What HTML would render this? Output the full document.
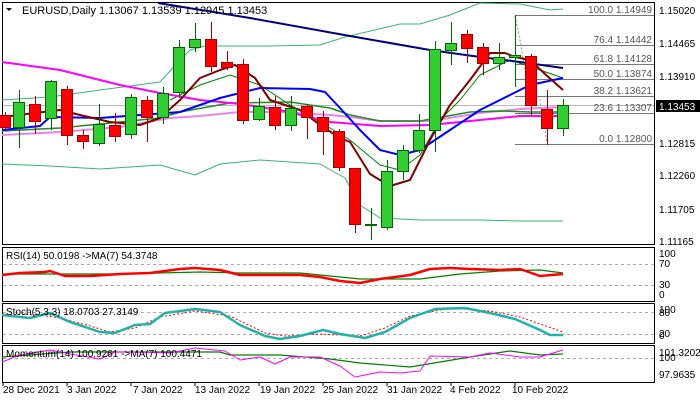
<!DOCTYPE html><html><head><style>body{margin:0;background:#fff}svg{display:block;font-family:"Liberation Sans",sans-serif;font-size:10px}</style></head><body>
<svg id="s" width="700" height="400" xmlns="http://www.w3.org/2000/svg">
<rect width="700" height="400" fill="#fff"/>
<g fill="none" stroke="#000" stroke-width="1">
<rect x="2.5" y="2.5" width="652" height="242"/>
<rect x="2.5" y="247.5" width="652" height="54"/>
<rect x="2.5" y="303.5" width="652" height="40"/>
<rect x="2.5" y="345.5" width="652" height="37"/>
</g>
<line x1="3" y1="105.5" x2="654" y2="105.5" stroke="#bbb"/>
<g stroke="#777" stroke-width="1">
<line x1="515" y1="15.5" x2="654" y2="15.5"/><line x1="515" y1="45.5" x2="654" y2="45.5"/><line x1="515" y1="64.5" x2="654" y2="64.5"/><line x1="515" y1="79.5" x2="654" y2="79.5"/><line x1="515" y1="96.5" x2="654" y2="96.5"/><line x1="515" y1="113.5" x2="654" y2="113.5"/><line x1="515" y1="144.5" x2="654" y2="144.5"/>
</g>
<polyline points="515,16 520,40 525,70 540,100 545,130 547,143" fill="none" stroke="#999" stroke-dasharray="2,2"/>
<g fill="#555" text-anchor="end" font-size="10"><text x="652" y="13">100.0 1.14949</text><text x="652" y="43">76.4 1.14442</text><text x="652" y="62">61.8 1.14128</text><text x="652" y="77">50.0 1.13874</text><text x="652" y="94">38.2 1.13621</text><text x="652" y="111">23.6 1.13307</text><text x="652" y="142">0.0 1.12800</text></g>
<g fill="none" stroke-linejoin="round">
<polyline stroke="#3cb371" stroke-width="1" points="2,100 50,97 100,90 160,82 180,60 190,50 205,46 270,46 320,45 345,37 400,24 420,24 450,15 480,3 520,4 550,10 563,9"/>
<polyline stroke="#3cb371" stroke-width="1" points="2,164 50,166 100,169 160,165 195,175 220,164 260,160 320,164 345,178 360,205 380,218 420,220 480,220 520,221 563,221"/>
<polyline stroke="#008000" stroke-width="1" points="170,100 200,85 230,75 260,85 290,105 330,128 350,140 380,165 400,170 420,155 440,120 460,100 480,75 510,60 540,70 563,78"/>
<polyline stroke="#ee82ee" stroke-width="2" points="2,135 60,132 120,127 170,118 200,116 240,112 280,112 330,115 350,117 380,121 430,121 480,113 520,109 563,107"/>
<polyline stroke="#228b22" stroke-width="1.5" points="2,131 60,128 120,122 160,118 180,112 230,103 290,102 330,108 350,115 380,121 420,121 470,112 500,111 530,112 563,112"/>
<polyline stroke="#ff00ff" stroke-width="2" points="2,62 60,70 120,85 160,93 200,100 240,104 280,110 330,122 380,126 430,125 480,120 520,116 563,116"/>
<polyline stroke="#000080" stroke-width="2" points="158,3 250,18 350,36 430,50 480,57 520,62 563,68"/>
<polyline stroke="#0000ff" stroke-width="2" points="2,130 40,126 50,117 100,118 180,112 220,98 260,88 310,89 325,92 340,108 360,130 380,150 400,155 420,150 450,130 480,110 510,95 530,85 563,78"/>
<polyline stroke="#800000" stroke-width="2" points="2,117 60,110 80,115 110,122 140,125 160,118 180,100 200,78 220,70 235,65 255,78 270,100 300,110 320,125 340,138 350,142 370,174 390,186 410,180 430,140 450,105 470,80 490,53 505,53 515,57 530,60 545,74 563,90"/>
</g>
<g id="c"></g>
<rect x="656" y="100" width="44" height="12" fill="#000"/>
<text x="659" y="110" fill="#fff">1.13453</text>
<g fill="#000" font-size="10"><text x="659" y="14">1.15020</text><text x="659" y="47">1.14465</text><text x="659" y="80">1.13910</text><text x="659" y="147">1.12815</text><text x="659" y="179">1.12260</text><text x="659" y="213">1.11705</text><text x="659" y="245">1.11165</text>
<text x="659" y="257">100</text><text x="659" y="267">70</text><text x="659" y="288">30</text><text x="659" y="298">0</text>
<text x="659" y="313">100</text><text x="659" y="316">80</text><text x="659" y="337">20</text><text x="659" y="339">0</text>
<text x="659" y="356">101.3202</text><text x="659" y="361">100</text><text x="659" y="378">97.9635</text></g>
<g stroke="#aaa" stroke-dasharray="3,3"><line x1="3" y1="264.5" x2="654" y2="264.5"/><line x1="3" y1="285.5" x2="654" y2="285.5"/><line x1="3" y1="312.5" x2="654" y2="312.5"/><line x1="3" y1="334.5" x2="654" y2="334.5"/><line x1="3" y1="358.5" x2="654" y2="358.5"/></g>
<g fill="none" stroke-linejoin="round">
<polyline stroke="#008000" stroke-width="1.2" points="2,274 60,274 120,274 200,272 240,273 300,273 340,277 360,279 420,279 460,274 500,271 540,270 563,273"/>
<polyline stroke="#ff0000" stroke-width="2.5" points="2,275 20,273 45,272 50,271 65,276 90,276 120,274 150,273 180,269 195,268 220,270 240,275 300,275 320,277 340,281 360,283 380,279 410,275 430,269 450,268 470,269 500,270 520,269 540,276 563,274"/>
<polyline stroke="#ff0000" stroke-width="1" stroke-dasharray="2,2" points="2,314 40,315 60,318 90,326 110,332 135,328 160,317 195,311 230,316 265,333 285,336 320,334 360,336 385,328 410,316 450,308 490,311 520,317 563,332"/>
<polyline stroke="#20b2aa" stroke-width="2.5" points="2,315 30,318 50,313 70,322 100,332 115,333 135,325 150,324 165,313 195,309 220,312 240,325 265,336 280,339 300,336 323,330 340,334 365,338 385,332 410,318 435,309 465,308 490,313 515,319 540,330 550,335 563,335"/>
<polyline stroke="#008000" stroke-width="1.2" points="2,357 70,352 130,352 220,352 230,355 280,355 330,359 360,363 410,367 440,362 470,357 510,351 540,355 563,354"/>
<polyline stroke="#ff00ff" stroke-width="1" points="2,362 20,355 50,350 70,354 100,359 115,352 135,352 170,353 195,348 225,351 240,360 260,357 275,364 290,357 320,357 340,366 355,377 380,372 400,373 420,371 430,356 470,357 490,353 520,357 540,357 563,350"/>
</g>
<g fill="#000"><text x="6" y="259">RSI(14) 50.0198  -&gt;MA(7) 54.3748</text><text x="6" y="315">Stoch(5,3,3) 18.0703 27.3149</text><text x="6" y="357">Momentum(14) 100.9261  -&gt;MA(7) 100.4471</text>
<text x="22" y="14" font-size="11">EURUSD,Daily  1.13067 1.13539 1.12945 1.13453</text></g>
<polygon points="6,8 12,8 9,11" fill="#000"/>
<g fill="#000" font-size="10"><text x="3" y="393">28 Dec 2021</text><text x="67" y="393">3 Jan 2022</text><text x="133" y="393">7 Jan 2022</text><text x="195" y="393">13 Jan 2022</text><text x="260" y="393">19 Jan 2022</text><text x="323" y="393">25 Jan 2022</text><text x="387" y="393">31 Jan 2022</text><text x="450" y="393">4 Feb 2022</text><text x="512" y="393">10 Feb 2022</text></g>
<g stroke="#000"><line x1="3" y1="382" x2="3" y2="386"/><line x1="67" y1="382" x2="67" y2="386"/><line x1="131" y1="382" x2="131" y2="386"/><line x1="195" y1="382" x2="195" y2="386"/><line x1="259" y1="382" x2="259" y2="386"/><line x1="323" y1="382" x2="323" y2="386"/><line x1="387" y1="382" x2="387" y2="386"/><line x1="451" y1="382" x2="451" y2="386"/><line x1="515" y1="382" x2="515" y2="386"/></g>
</svg>
<script>
var d=[[5,0,115,127,112,130],[19,1,102,127,90,148],[35,0,104,121,96,134],[51,1,81,118,80,130],[67,0,89,135,86,145],[83,0,135,141,130,149],[99,1,124,143,104,146],[115,0,125,136,113,142],[131,1,97,134,94,139],[147,0,100,117,96,142],[163,1,93,117,87,124],[179,1,47,92,40,98],[195,1,39,47,23,52],[211,0,39,66,22,72],[227,0,62,67,51,70],[243,0,64,120,59,124],[259,1,106,119,98,121],[275,0,107,125,96,130],[291,1,108,125,96,131],[307,0,106,117,104,139],[323,0,117,131,111,155],[339,0,131,167,129,171],[355,0,168,224,168,233],[371,1,224,225,208,240],[387,1,171,227,160,230],[403,1,150,171,145,180],[419,1,130,150,114,153],[435,1,49,130,41,152],[451,1,43,50,22,65],[467,0,34,48,30,63],[483,0,47,63,43,75],[499,1,57,63,43,70],[515,1,55,57,15,87],[531,0,56,105,54,115],[547,0,109,128,90,145],[563,1,105,128,99,136]];
var h='';d.forEach(function(c){var col=c[1]?'#32cd32':'#ff0000',st=c[1]?'#006400':'#a00000';
h+='<line x1="'+(c[0]+.5)+'" y1="'+c[4]+'" x2="'+(c[0]+.5)+'" y2="'+c[5]+'" stroke="'+st+'"/>';
h+='<rect x="'+(c[0]-5.5)+'" y="'+(c[2]+.5)+'" width="11" height="'+Math.max(1,c[3]-c[2])+'" fill="'+col+'" stroke="'+st+'"/>';});
document.getElementById('c').innerHTML=h;
</script>
</body></html>
